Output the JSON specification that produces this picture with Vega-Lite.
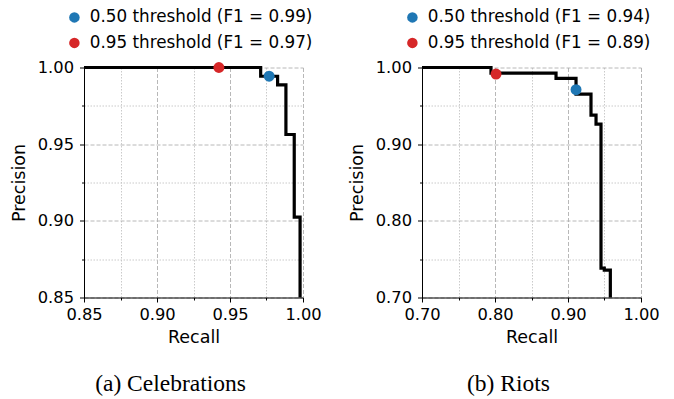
{
  "$schema": "https://vega.github.io/schema/vega-lite/v6.json",
  "padding": {"left": 10, "top": 8.5, "right": 5, "bottom": 2},
  "background": "white",
  "config": {
    "font": "DejaVu Sans",
    "view": {"stroke": null},
    "axis": {
      "domainColor": "black",
      "domainWidth": 1,
      "tickColor": "black",
      "tickWidth": 1,
      "labelColor": "black",
      "labelFont": "DejaVu Sans",
      "labelFontSize": 16.3,
      "labelOverlap": false,
      "labelFlush": false,
      "labelPadding": 4,
      "titleColor": "black",
      "titleFont": "DejaVu Sans",
      "titleFontSize": 17.5,
      "titleFontWeight": "normal",
      "gridWidth": 0.9
    }
  },
  "datasets": {
    "celeb_curve": [
      {"recall": 0.85, "precision": 1.0},
      {"recall": 0.971, "precision": 0.9943},
      {"recall": 0.9826, "precision": 0.9887},
      {"recall": 0.9883, "precision": 0.9563},
      {"recall": 0.994, "precision": 0.9024},
      {"recall": 0.998, "precision": 0.85}
    ],
    "celeb_points": [
      {"recall": 0.9768, "precision": 0.9943, "label": "0.50 threshold (F1 = 0.99)"},
      {"recall": 0.9424, "precision": 1.0, "label": "0.95 threshold (F1 = 0.97)"}
    ],
    "riots_curve": [
      {"recall": 0.70, "precision": 1.0},
      {"recall": 0.7945, "precision": 0.9927},
      {"recall": 0.8836, "precision": 0.9857},
      {"recall": 0.911, "precision": 0.9653},
      {"recall": 0.9315, "precision": 0.9379},
      {"recall": 0.9384, "precision": 0.9262},
      {"recall": 0.9452, "precision": 0.7383},
      {"recall": 0.9497, "precision": 0.7357},
      {"recall": 0.958, "precision": 0.70}
    ],
    "riots_points": [
      {"recall": 0.911, "precision": 0.971, "label": "0.50 threshold (F1 = 0.94)"},
      {"recall": 0.8014, "precision": 0.9914, "label": "0.95 threshold (F1 = 0.89)"}
    ]
  },
  "bounds": "flush",
  "spacing": 119,
  "resolve": {"scale": {"color": "independent", "x": "independent", "y": "independent"}, "legend": {"color": "independent"}},
  "hconcat": [
    {
      "width": 219,
      "height": 230,
      "title": {"text": "(a) Celebrations", "orient": "bottom", "anchor": "middle", "font": "Liberation Serif", "fontSize": 23.5, "fontWeight": "normal", "color": "black", "dx": -23, "offset": 26},
      "encoding": {
        "x": {
          "field": "recall", "type": "quantitative",
          "scale": {"domain": [0.85, 1.0], "nice": false, "zero": false},
          "axis": {
            "title": "Recall",
            "titlePadding": 6,
            "values": [0.85, 0.875, 0.9, 0.925, 0.95, 0.975, 1.0],
            "labelExpr": "round(datum.value*1000) % 50 == 0 ? format(datum.value, '.2f') : ''",
            "tickSize": {"condition": {"test": "round(datum.value*1000) % 50 != 0", "value": 2.5}, "value": 4.5},
            "gridDash": {"condition": {"test": "round(datum.value*1000) % 50 != 0", "value": [1.5, 1.5]}, "value": [4, 2]},
            "gridColor": {"condition": {"test": "round(datum.value*1000) % 50 != 0", "value": "#c4c4c4"}, "value": "#b0b0b0"}
          }
        },
        "y": {
          "field": "precision", "type": "quantitative",
          "scale": {"domain": [0.85, 1.0], "nice": false, "zero": false},
          "axis": {
            "title": "Precision",
            "titlePadding": 9,
            "labelPadding": 6,
            "values": [0.85, 0.875, 0.9, 0.925, 0.95, 0.975, 1.0],
            "labelExpr": "round(datum.value*1000) % 50 == 0 ? format(datum.value, '.2f') : ''",
            "tickSize": {"condition": {"test": "round(datum.value*1000) % 50 != 0", "value": 2.5}, "value": 4.5},
            "gridDash": {"condition": {"test": "round(datum.value*1000) % 50 != 0", "value": [1.5, 1.5]}, "value": [4, 2]},
            "gridColor": {"condition": {"test": "round(datum.value*1000) % 50 != 0", "value": "#c4c4c4"}, "value": "#b0b0b0"}
          }
        }
      },
      "layer": [
        {
          "data": {"name": "celeb_curve"},
          "mark": {"type": "line", "interpolate": "step-after", "clip": false, "color": "black", "strokeWidth": 3.2}
        },
        {
          "data": {"name": "celeb_points"},
          "mark": {"type": "point", "filled": true, "size": 120, "opacity": 1},
          "encoding": {
            "color": {
              "field": "label", "type": "nominal",
              "scale": {"domain": ["0.50 threshold (F1 = 0.99)", "0.95 threshold (F1 = 0.97)"], "range": ["#1f77b4", "#d62728"]},
              "legend": {"orient": "none", "legendX": -18, "legendY": -58.5, "title": null, "symbolType": "circle", "symbolSize": 110, "labelFont": "DejaVu Sans", "labelFontSize": 16.8, "labelColor": "black", "labelLimit": 0, "rowPadding": 7.5, "labelOffset": 7, "symbolStrokeWidth": 0}
            }
          }
        }
      ]
    },
    {
      "width": 219,
      "height": 230,
      "title": {"text": "(b) Riots", "orient": "bottom", "anchor": "middle", "font": "Liberation Serif", "fontSize": 23.5, "fontWeight": "normal", "color": "black", "dx": -23, "offset": 26},
      "encoding": {
        "x": {
          "field": "recall", "type": "quantitative",
          "scale": {"domain": [0.7, 1.0], "nice": false, "zero": false},
          "axis": {
            "title": "Recall",
            "titlePadding": 6,
            "values": [0.7, 0.75, 0.8, 0.85, 0.9, 0.95, 1.0],
            "labelExpr": "round(datum.value*1000) % 100 == 0 ? format(datum.value, '.2f') : ''",
            "tickSize": {"condition": {"test": "round(datum.value*1000) % 100 != 0", "value": 2.5}, "value": 4.5},
            "gridDash": {"condition": {"test": "round(datum.value*1000) % 100 != 0", "value": [1.5, 1.5]}, "value": [4, 2]},
            "gridColor": {"condition": {"test": "round(datum.value*1000) % 100 != 0", "value": "#c4c4c4"}, "value": "#b0b0b0"}
          }
        },
        "y": {
          "field": "precision", "type": "quantitative",
          "scale": {"domain": [0.7, 1.0], "nice": false, "zero": false},
          "axis": {
            "title": "Precision",
            "titlePadding": 9,
            "labelPadding": 6,
            "values": [0.7, 0.75, 0.8, 0.85, 0.9, 0.95, 1.0],
            "labelExpr": "round(datum.value*1000) % 100 == 0 ? format(datum.value, '.2f') : ''",
            "tickSize": {"condition": {"test": "round(datum.value*1000) % 100 != 0", "value": 2.5}, "value": 4.5},
            "gridDash": {"condition": {"test": "round(datum.value*1000) % 100 != 0", "value": [1.5, 1.5]}, "value": [4, 2]},
            "gridColor": {"condition": {"test": "round(datum.value*1000) % 100 != 0", "value": "#c4c4c4"}, "value": "#b0b0b0"}
          }
        }
      },
      "layer": [
        {
          "data": {"name": "riots_curve"},
          "mark": {"type": "line", "interpolate": "step-after", "clip": false, "color": "black", "strokeWidth": 3.2}
        },
        {
          "data": {"name": "riots_points"},
          "mark": {"type": "point", "filled": true, "size": 120, "opacity": 1},
          "encoding": {
            "color": {
              "field": "label", "type": "nominal",
              "scale": {"domain": ["0.50 threshold (F1 = 0.94)", "0.95 threshold (F1 = 0.89)"], "range": ["#1f77b4", "#d62728"]},
              "legend": {"orient": "none", "legendX": -18, "legendY": -58.5, "title": null, "symbolType": "circle", "symbolSize": 110, "labelFont": "DejaVu Sans", "labelFontSize": 16.8, "labelColor": "black", "labelLimit": 0, "rowPadding": 7.5, "labelOffset": 7, "symbolStrokeWidth": 0}
            }
          }
        }
      ]
    }
  ]
}
